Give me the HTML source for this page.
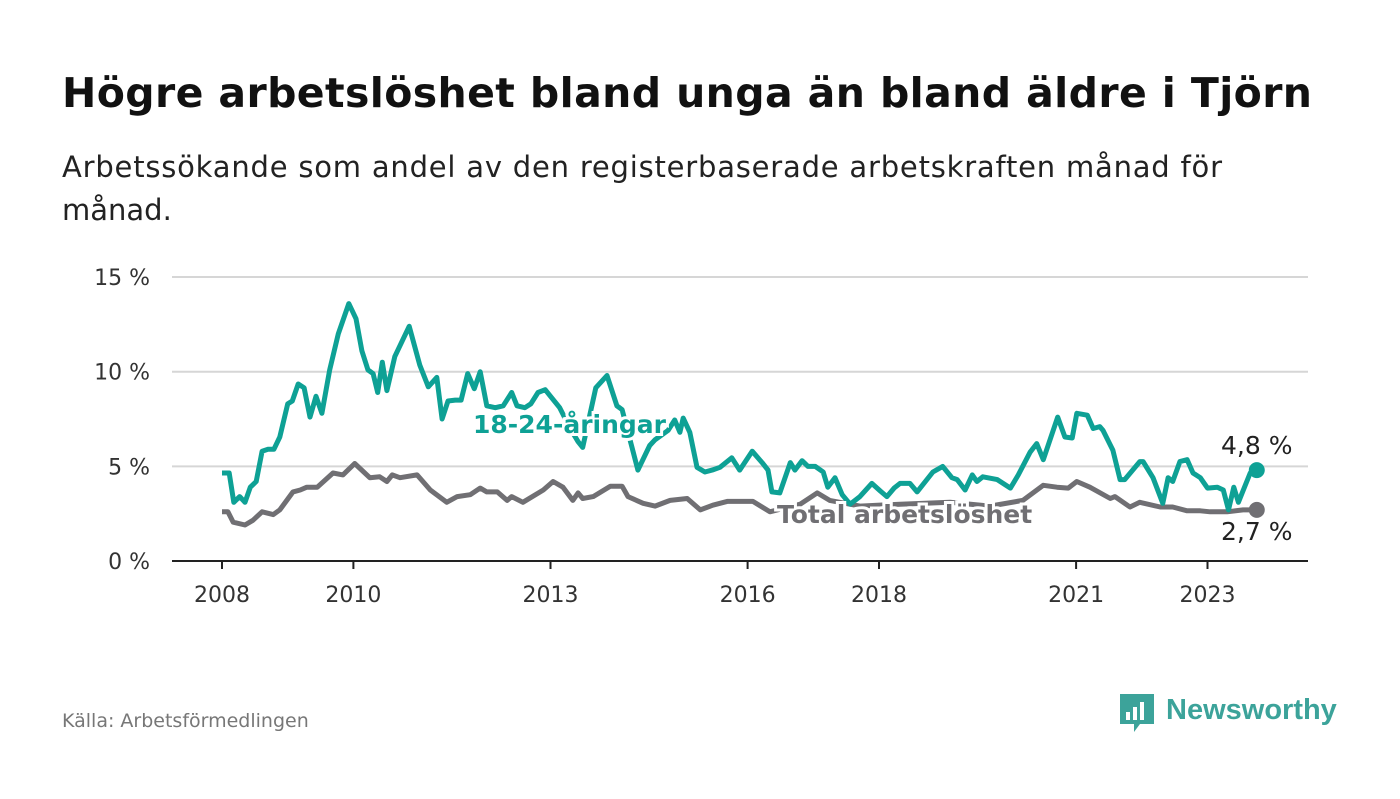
<!DOCTYPE html>
<html><head><meta charset="utf-8"><style>
body{margin:0;background:#fff;font-family:"Liberation Sans",sans-serif}
svg text{font-family:"DejaVu Sans","Liberation Sans",sans-serif}
</style></head><body>
<svg width="1400" height="794" viewBox="0 0 1400 794">
<text x="62" y="107" font-size="41" font-weight="bold" fill="#111" textLength="1250">Högre arbetslöshet bland unga än bland äldre i Tjörn</text>
<text x="62" y="177" font-size="29" fill="#222" textLength="1160">Arbetssökande som andel av den registerbaserade arbetskraften månad för</text>
<text x="62" y="220" font-size="29" fill="#222">månad.</text>
<g id="grid"></g><g id="lines"></g><g id="labels"></g>
<text x="62" y="727" font-size="19" fill="#777">Källa: Arbetsförmedlingen</text>
<g>
<path d="M1120 694h34v30h-14l-6 8v-8h-14z" fill="#3ca39a"/>
<rect x="1126" y="712" width="4" height="8" fill="#fff"/><rect x="1133" y="707" width="4" height="13" fill="#fff"/><rect x="1140" y="702" width="4" height="18" fill="#fff"/>
<text x="1166" y="719" font-size="29" font-weight="bold" fill="#3ca39a" style="font-family:'Liberation Sans',sans-serif">Newsworthy</text>
</g>
</svg>
<script>
const yTicks=[0,5,10,15];
const yTickLabels=["0 %","5 %","10 %","15 %"];
const xTicks=[2008,2010,2013,2016,2018,2021,2023];
const youthYears=[2008.00,2008.11,2008.18,2008.27,2008.35,2008.43,2008.52,2008.61,2008.70,2008.79,2008.88,2009.00,2009.07,2009.16,2009.25,2009.34,2009.43,2009.52,2009.64,2009.77,2009.93,2010.04,2010.13,2010.22,2010.30,2010.37,2010.44,2010.51,2010.63,2010.85,2011.01,2011.14,2011.27,2011.35,2011.44,2011.55,2011.64,2011.74,2011.84,2011.93,2012.03,2012.16,2012.28,2012.41,2012.49,2012.61,2012.70,2012.81,2012.92,2013.00,2013.14,2013.30,2013.42,2013.49,2013.69,2013.86,2014.01,2014.09,2014.24,2014.33,2014.51,2014.59,2014.79,2014.89,2014.97,2015.02,2015.12,2015.23,2015.35,2015.46,2015.58,2015.76,2015.88,2016.07,2016.22,2016.31,2016.37,2016.49,2016.65,2016.72,2016.83,2016.92,2017.03,2017.15,2017.22,2017.33,2017.44,2017.56,2017.71,2017.89,2018.02,2018.12,2018.23,2018.32,2018.47,2018.58,2018.82,2018.97,2019.11,2019.19,2019.31,2019.42,2019.49,2019.58,2019.80,2020.00,2020.12,2020.30,2020.40,2020.50,2020.72,2020.83,2020.94,2021.01,2021.17,2021.26,2021.36,2021.41,2021.56,2021.67,2021.74,2021.97,2022.02,2022.17,2022.32,2022.40,2022.47,2022.58,2022.69,2022.78,2022.89,2023.00,2023.15,2023.24,2023.32,2023.40,2023.47,2023.65,2023.75];
const youthValues=[4.65,4.65,3.1,3.4,3.1,3.9,4.2,5.8,5.9,5.9,6.55,8.3,8.45,9.35,9.15,7.6,8.7,7.8,10.1,12.0,13.6,12.8,11.1,10.1,9.9,8.9,10.5,9.0,10.8,12.4,10.35,9.2,9.7,7.5,8.45,8.5,8.5,9.9,9.1,10.0,8.2,8.1,8.2,8.9,8.2,8.1,8.3,8.9,9.05,8.7,8.1,7.0,6.3,6.0,9.15,9.8,8.2,8.0,6.0,4.8,6.1,6.4,6.9,7.45,6.8,7.55,6.8,4.95,4.7,4.8,4.95,5.45,4.8,5.8,5.2,4.8,3.65,3.6,5.2,4.8,5.3,5.0,5.0,4.7,3.9,4.4,3.5,3.0,3.4,4.1,3.7,3.4,3.85,4.1,4.1,3.65,4.7,5.0,4.4,4.3,3.75,4.55,4.2,4.45,4.3,3.85,4.55,5.75,6.2,5.35,7.6,6.55,6.5,7.8,7.7,7.0,7.1,6.9,5.85,4.3,4.3,5.25,5.25,4.4,3.05,4.4,4.2,5.25,5.35,4.65,4.4,3.85,3.9,3.75,2.7,3.9,3.1,4.65,4.8];
const totalYears=[2008.00,2008.09,2008.17,2008.35,2008.47,2008.61,2008.78,2008.88,2009.08,2009.19,2009.29,2009.45,2009.69,2009.84,2010.02,2010.25,2010.40,2010.51,2010.59,2010.71,2010.97,2011.17,2011.42,2011.58,2011.78,2011.93,2012.03,2012.19,2012.34,2012.41,2012.58,2012.89,2013.04,2013.19,2013.34,2013.42,2013.49,2013.65,2013.91,2014.09,2014.18,2014.41,2014.59,2014.82,2015.08,2015.28,2015.47,2015.69,2016.08,2016.34,2016.80,2017.06,2017.25,2017.71,2018.32,2019.08,2019.69,2020.19,2020.50,2020.71,2020.88,2021.01,2021.21,2021.52,2021.59,2021.82,2021.97,2022.28,2022.47,2022.69,2022.89,2023.04,2023.30,2023.54,2023.75];
const totalValues=[2.6,2.6,2.05,1.9,2.15,2.6,2.45,2.7,3.65,3.75,3.9,3.9,4.65,4.55,5.15,4.4,4.45,4.2,4.55,4.4,4.55,3.75,3.1,3.4,3.5,3.85,3.65,3.65,3.2,3.4,3.1,3.75,4.2,3.9,3.2,3.6,3.3,3.4,3.95,3.95,3.4,3.05,2.9,3.2,3.3,2.7,2.95,3.15,3.15,2.6,3.0,3.6,3.2,2.9,3.0,3.1,2.9,3.2,4.0,3.9,3.85,4.2,3.9,3.3,3.4,2.85,3.1,2.85,2.85,2.65,2.65,2.6,2.6,2.7,2.7];
const xS=y=>222+(y-2008)*65.7, yS=v=>561-v*18.93;
const NS="http://www.w3.org/2000/svg";
function mk(t,a,p){const e=document.createElementNS(NS,t);for(const k in a)e.setAttribute(k,a[k]);p.appendChild(e);return e;}
const grid=document.getElementById('grid'),lines=document.getElementById('lines'),labs=document.getElementById('labels');
yTicks.forEach((v,i)=>{
 if(v>0){const g=mk('line',{x1:172,x2:1308,y1:yS(v),y2:yS(v),stroke:'#d6d6d6','stroke-width':2},grid);
 
 }
 const t=mk('text',{x:150,y:yS(v)+8,'text-anchor':'end','font-size':22,fill:'#333'},grid);t.textContent=yTickLabels[i];
 
 
});
const ax=mk('line',{x1:172,x2:1308,y1:561,y2:561,stroke:'#222','stroke-width':2},grid);


xTicks.forEach(y=>{
 mk('line',{x1:xS(y),x2:xS(y),y1:561,y2:569,stroke:'#222','stroke-width':2},grid);
 const t=mk('text',{x:xS(y),y:602,'text-anchor':'middle','font-size':22,fill:'#333'},grid);t.textContent=y;
 
 
});
function line(ys,vs,c,name){
 const p=mk('path',{d:ys.map((y,i)=>(i?'L':'M')+xS(y).toFixed(1)+' '+yS(vs[i]).toFixed(1)).join(''),fill:'none',stroke:c,'stroke-width':5,'stroke-linejoin':'round'},lines);
 
 
 const n=ys.length-1;
 const d=mk('circle',{cx:xS(ys[n]),cy:yS(vs[n]),r:8,fill:c},lines);
 
 
}
line(totalYears,totalValues,'#706f73','total-line');
line(youthYears,youthValues,'#0ea195','youth-line');
function lab(x,y,s,c,w,name,anchor){
 const t=mk('text',{x:x,y:y,'font-size':25,'font-weight':w,fill:c,stroke:'#fff','stroke-width':6,'paint-order':'stroke','text-anchor':anchor||'start'},labs);t.textContent=s;
 
 
}
lab(473,433,'18-24-åringar','#0ea195','bold','youth-series-label');
lab(777,523,'Total arbetslöshet','#706f73','bold','total-series-label');
const ny=youthYears.length-1, nt=totalYears.length-1;
lab(xS(youthYears[ny]),yS(youthValues[ny])-16,'4,8 %','#222','normal','youth-end-value','middle');
lab(xS(totalYears[nt]),yS(totalValues[nt])+30,'2,7 %','#222','normal','total-end-value','middle');
</script>
</body></html>
